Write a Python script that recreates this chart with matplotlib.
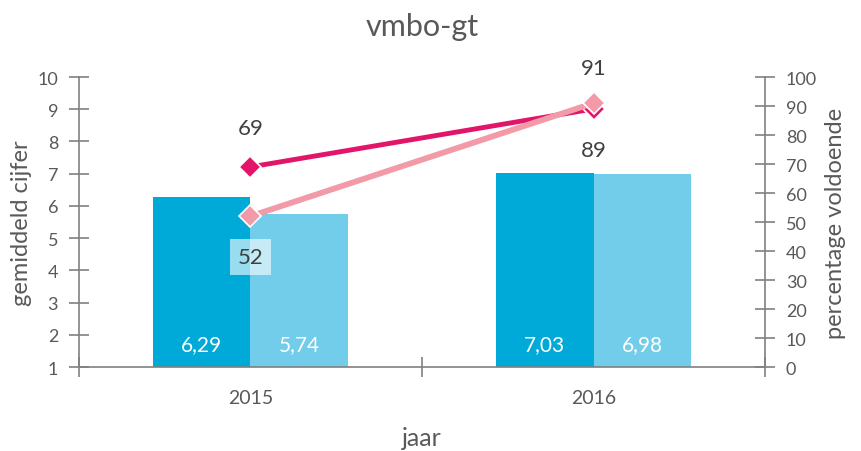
import matplotlib
matplotlib.use("Agg")
import matplotlib.pyplot as plt
import numpy as np

plt.rcParams['font.family'] = ['Lato', 'DejaVu Sans']

# data
years = ["2015", "2016"]
cijfer_a = [6.29, 7.03]      # dark blue bars
cijfer_b = [5.74, 6.98]      # light blue bars
voldoende_a = [69, 89]       # dark pink line
voldoende_b = [52, 91]       # light pink line

C_BAR_A = "#00AAD8"
C_BAR_B = "#72CDEA"
C_LINE_A = "#E2156B"
C_LINE_B = "#F29AA8"
AXIS_C = "#808080"
TXT_C = "#595959"

fig = plt.figure(figsize=(8.62, 4.52), dpi=100)
ax = fig.add_axes([0.0916, 0.1858, 0.7959, 0.6416])
ax2 = ax.twinx()

x = np.arange(len(years))
bw = 0.285
ax.bar(x - bw / 2, np.array(cijfer_a) - 1, bw, bottom=1, color=C_BAR_A, zorder=2)
ax.bar(x + bw / 2, np.array(cijfer_b) - 1, bw, bottom=1, color=C_BAR_B, zorder=2)
for xi, a, b in zip(x, cijfer_a, cijfer_b):
    ax.text(xi - bw / 2, 1.72, f"{a:.2f}".replace(".", ","), ha="center", va="center",
            color="white", fontsize=15)
    ax.text(xi + bw / 2, 1.72, f"{b:.2f}".replace(".", ","), ha="center", va="center",
            color="white", fontsize=15)

ax.set_xlim(-0.5, 1.5)
ax.set_ylim(1, 10)
ax.set_yticks(range(1, 11))
ax2.set_ylim(0, 100)
ax2.set_yticks(range(0, 101, 10))

ax2.plot(x, voldoende_a, color=C_LINE_A, lw=3.5, marker="D", ms=11,
         mec="white", mew=1.2, zorder=3)
ax2.plot(x, voldoende_b, color=C_LINE_B, lw=4.2, marker="D", ms=11,
         mec="white", mew=1.2, zorder=4)

# line labels
ax2.text(x[0], voldoende_a[0] + 13.5, str(voldoende_a[0]), ha="center", va="center",
         fontsize=16, color="#404040")
ax2.text(x[0], voldoende_b[0] - 14, str(voldoende_b[0]), ha="center", va="center",
         fontsize=16, color="#404040",
         bbox=dict(boxstyle="square,pad=0.35", fc="white", ec="none", alpha=0.6))
ax2.text(x[1], voldoende_b[1] + 12, str(voldoende_b[1]), ha="center", va="center",
         fontsize=16, color="#404040")
ax2.text(x[1], voldoende_a[1] - 14, str(voldoende_a[1]), ha="center", va="center",
         fontsize=16, color="#404040")

ax.set_xticks([-0.5, 0.5, 1.5])
ax.set_xticklabels([])
ax.set_xticks(x, minor=True)
ax.set_xticklabels(years, minor=True)
ax.tick_params(axis="x", which="minor", length=0, pad=16, labelsize=14, labelcolor=TXT_C)
ax.tick_params(axis="x", which="major", direction="inout", length=14, color=AXIS_C, width=1.2)
ax.tick_params(axis="y", direction="inout", length=14, color=AXIS_C, width=1.2,
               labelsize=13, labelcolor=TXT_C, pad=8)
ax2.tick_params(axis="y", direction="inout", length=14, color=AXIS_C, width=1.2,
                labelsize=13, labelcolor=TXT_C, pad=8)

for a in (ax, ax2):
    a.spines["top"].set_visible(False)
    for s in ("left", "right", "bottom"):
        a.spines[s].set_color(AXIS_C)
        a.spines[s].set_linewidth(1.2)
ax.spines["right"].set_visible(False)
ax2.spines["left"].set_visible(False)
ax2.spines["bottom"].set_visible(False)

ax.set_ylabel("gemiddeld cijfer", fontsize=17, color=TXT_C, labelpad=4)
ax2.set_ylabel("percentage voldoende", fontsize=17, color=TXT_C, labelpad=6)
ax.set_xlabel("jaar", fontsize=18, color=TXT_C, labelpad=14)
ax.set_title("vmbo-gt", fontsize=22, color=TXT_C, pad=30)

fig.savefig("out.png", dpi=100)
